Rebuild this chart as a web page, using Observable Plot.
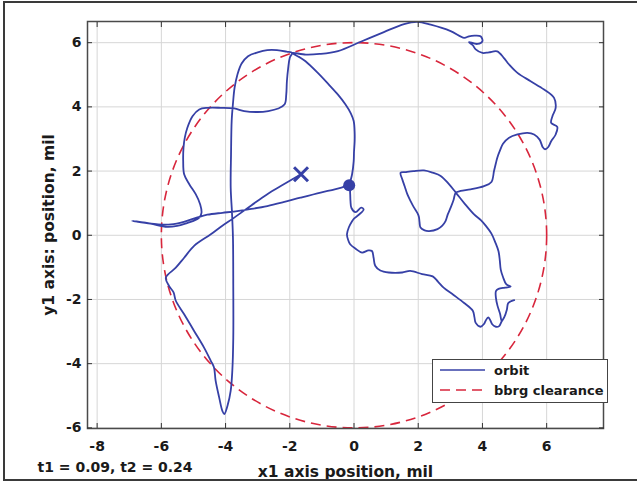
<!DOCTYPE html>
<html>
<head>
<meta charset="utf-8">
<script src="https://cdn.jsdelivr.net/npm/d3@7"></script>
<script src="https://cdn.jsdelivr.net/npm/@observablehq/plot@0.6"></script>
<style>
  body { margin: 0; background: #fff; }
  #fig { position: relative; width: 637px; height: 482px; overflow: hidden; background: #fff;
         font-family: "DejaVu Sans", sans-serif; font-weight: bold; color: #1a1a1a; }
  #fig > svg { position: absolute; left: 0; top: 0; }
  #border { position: absolute; left: 3px; top: 1px; width: 700px; height: 480px; box-sizing: border-box;
            border: 2px solid #3a3a3a; border-right: none; pointer-events: none; }
  #legend { position: absolute; left: 432px; top: 359px; width: 176px; height: 44px; box-sizing: border-box;
            background: #fff; border: 1.5px solid #444; }
  #legend svg { display: block; }
</style>
</head>
<body>
<div id="fig"></div>
<script>
// Rotor orbit (x1, y1) in mil, traced in time order from start (×) to end (●)
const orbitX = [
  -1.65, -2.20, -2.70, -3.20, -3.73, -4.10, -4.46, -4.98, -5.29, -5.55, -5.86,
  -5.76, -5.62, -5.55, -5.29, -4.98, -4.67, -4.46, -4.36, -4.31, -4.20, -4.10, -4.04,
  -3.94, -3.84, -3.79, -3.76, -3.76, -3.77, -3.80, -3.84, -3.83, -3.81, -3.77, -3.72, -3.63, -3.50, -3.30, -3.00, -2.70, -2.40, -2.10, -1.93,
  -2.00, -2.05, -2.09, -2.11, -2.16, -2.36, -2.67, -3.00, -3.42, -3.73, -4.15, -4.56, -4.82, -5.03, -5.19, -5.27, -5.31, -5.32, -5.29, -5.13, -4.93, -4.79, -4.75, -4.82, -5.00, -5.20, -5.51, -5.82, -6.34, -6.91,
  -6.55, -6.10, -5.70, -5.30, -4.90, -4.57, -4.10, -3.74, -3.20, -2.70, -2.20, -1.67, -1.04, -0.60, -0.35, -0.15,
  -0.12, -0.11, -0.08, 0.05, 0.22, 0.30, 0.15, 0.00, -0.06, -0.16, -0.22, -0.18, -0.12, 0.05, 0.25, 0.45, 0.56, 0.61, 0.66, 0.82, 1.08, 1.50, 1.75, 2.12, 2.45, 2.62, 2.80, 3.10, 3.43, 3.70, 3.75, 3.79, 3.94, 4.05, 4.10, 4.18, 4.24, 4.31, 4.42, 4.52, 4.60,
  4.68, 4.76, 4.80, 4.90, 4.99, 4.90, 4.80, 4.76, 4.68, 4.60,
  4.55, 4.47, 4.42, 4.42, 4.50, 4.70, 4.88, 4.74, 4.64, 4.57, 4.54, 4.50, 4.40, 4.28, 4.10, 3.95, 3.74, 3.45, 3.17,
  2.95, 2.70, 2.45, 2.18, 1.85, 1.60, 1.45, 1.50, 1.58, 1.66, 1.77, 1.87, 1.98, 2.02, 2.04, 2.07, 2.20, 2.34, 2.60, 2.75, 2.85, 2.92, 3.01, 3.10, 3.17,
  3.32, 3.63, 4.05, 4.28, 4.36, 4.42, 4.46, 4.55, 4.64, 4.83, 5.09, 5.40, 5.61, 5.78, 5.88, 5.95, 6.05, 6.14, 6.28, 6.33, 6.14, 6.18, 6.28, 6.23, 5.92, 5.50, 5.09, 4.83, 4.67, 4.46, 4.20, 4.00, 3.79, 3.70, 3.58, 3.84, 4.00, 3.94, 3.75, 3.58, 3.43, 3.01, 2.39, 1.97, 1.56, 0.93, 0.21, -0.50, -1.07, -1.50, -1.93,
  -1.70, -1.51, -1.15, -0.79, -0.50, -0.27, -0.10, -0.01, 0.02, 0.02, 0.00, -0.01, -0.06, -0.15
];
const orbitY = [
  1.90, 1.58, 1.28, 0.93, 0.55, 0.30, 0.03, -0.33, -0.70, -1.01, -1.32,
  -1.58, -1.78, -2.04, -2.46, -2.98, -3.50, -3.91, -4.12, -4.53, -5.05, -5.47, -5.57,
  -5.31, -4.84, -4.22, -3.19, -1.63, -0.07, 0.70, 1.48, 2.52, 3.56, 4.10, 4.59, 5.01, 5.35, 5.58, 5.70, 5.77, 5.77, 5.72, 5.68,
  5.53, 5.21, 4.80, 4.39, 4.08, 3.95, 3.87, 3.84, 3.87, 3.95, 3.97, 3.97, 3.92, 3.71, 3.35, 3.04, 2.73, 2.31, 1.90, 1.59, 1.28, 0.96, 0.70, 0.55, 0.45, 0.38, 0.29, 0.26, 0.36, 0.45,
  0.40, 0.34, 0.34, 0.42, 0.55, 0.64, 0.70, 0.74, 0.82, 0.91, 1.03, 1.17, 1.33, 1.43, 1.50, 1.56,
  1.30, 1.07, 0.85, 0.72, 0.86, 0.80, 0.64, 0.52, 0.44, 0.25, 0.03, -0.15, -0.28, -0.42, -0.54, -0.47, -0.49, -0.70, -0.95, -1.10, -1.16, -1.16, -1.11, -1.21, -1.28, -1.45, -1.64, -1.86, -2.11, -2.35, -2.55, -2.73, -2.85, -2.76, -2.66, -2.56, -2.64, -2.78, -2.85, -2.83, -2.68,
  -2.55, -2.32, -2.12, -2.05, -2.02, -2.05, -2.12, -2.32, -2.55, -2.66,
  -2.45, -2.20, -1.95, -1.74, -1.67, -1.63, -1.60, -1.52, -1.30, -1.07, -0.78, -0.50, -0.22, 0.05, 0.30, 0.47, 0.65, 0.98, 1.33,
  1.60, 1.85, 1.95, 2.02, 2.00, 1.97, 1.95, 1.75, 1.52, 1.28, 1.05, 0.86, 0.68, 0.58, 0.42, 0.24, 0.15, 0.13, 0.19, 0.30, 0.44, 0.65, 0.86, 1.10, 1.33,
  1.38, 1.43, 1.53, 1.66, 2.00, 2.25, 2.41, 2.65, 2.85, 3.04, 3.14, 3.19, 3.14, 2.98, 2.74, 2.68, 2.75, 2.93, 3.14, 3.38, 3.50, 3.71, 3.97, 4.28, 4.54, 4.80, 5.06, 5.32, 5.52, 5.73, 5.70, 5.68, 5.79, 5.92, 6.02, 5.96, 6.05, 6.20, 6.22, 6.20, 6.15, 6.36, 6.56, 6.65, 6.58, 6.33, 6.03, 5.74, 5.65, 5.63, 5.68,
  5.55, 5.42, 5.08, 4.70, 4.38, 4.08, 3.80, 3.56, 3.20, 2.93, 2.60, 2.31, 1.90, 1.56
];

// Bearing clearance radius (mil) and orbit end markers
const clearanceRadius = [6];
const startPoint = [{x: -1.65, y: 1.90}];
const endPoint = [{x: -0.15, y: 1.56}];

const xTicks = [-8, -6, -4, -2, 0, 2, 4, 6];
const yTicks = [-6, -4, -2, 0, 2, 4, 6];
const xDomain = [-8.3, 7.77];
const yDomain = [-6.02, 6.66];

const legendItems = ["orbit", "bbrg clearance"];
const note = "t1 = 0.09, t2 = 0.24";
const xLabel = "x1 axis position, mil";
const yLabel = "y1 axis: position, mil";

const blue = "#3640a6";
const red = "#d8263c";

const W = 637, H = 482;
const mL = 87, mR = 34, mT = 21, mB = 54;
const plotW = W - mL - mR;

const orbit = orbitX.map((x, i) => ({x, y: orbitY[i]}));
const plainNumber = d => String(d);

const chart = Plot.plot({
  width: W,
  height: H,
  marginLeft: mL,
  marginRight: mR,
  marginTop: mT,
  marginBottom: mB,
  style: {background: "transparent", fontFamily: "'DejaVu Sans', sans-serif", fontWeight: "bold", fontSize: "14px", color: "#1a1a1a", overflow: "visible"},
  x: {domain: xDomain},
  y: {domain: yDomain},
  // radius scale in the same units as the x axis, so the clearance circle is drawn at radius 6 mil
  r: {type: "linear", domain: [0, xDomain[1] - xDomain[0]], range: [0, plotW]},
  marks: [
    Plot.gridX(xTicks, {stroke: "#d6d6d6", strokeOpacity: 1}),
    Plot.gridY(yTicks, {stroke: "#d6d6d6", strokeOpacity: 1}),
    Plot.dot(clearanceRadius, {x: () => 0, y: () => 0, r: d => d, stroke: red, strokeWidth: 1.6, strokeDasharray: "10,6", fill: "none"}),
    Plot.line(orbit, {x: "x", y: "y", stroke: blue, strokeWidth: 1.8, curve: "catmull-rom"}),
    Plot.dot(startPoint, {x: "x", y: "y", symbol: "times", r: 6.4, stroke: blue, strokeWidth: 3}),
    Plot.dot(endPoint, {x: "x", y: "y", r: 6, fill: blue, stroke: "none"}),
    Plot.frame({stroke: "#4a4a4a", strokeWidth: 1.5}),
    // tick labels
    Plot.axisX(xTicks, {anchor: "bottom", tickSize: 0, tickPadding: 13, label: null, fontSize: 14, tickFormat: plainNumber}),
    Plot.axisY(yTicks, {anchor: "left", tickSize: 0, tickPadding: 6, label: null, fontSize: 14, tickFormat: plainNumber}),
    // inward ticks on all four sides
    Plot.axisX(xTicks, {anchor: "bottom", tickSize: 5, dy: -5, fill: "none", label: null, stroke: "#333"}),
    Plot.axisX(xTicks, {anchor: "top", tickSize: 5, dy: 5, fill: "none", label: null, stroke: "#333"}),
    Plot.axisY(yTicks, {anchor: "left", tickSize: 5, dx: 5, fill: "none", label: null, stroke: "#333"}),
    Plot.axisY(yTicks, {anchor: "right", tickSize: 5, dx: -5, fill: "none", label: null, stroke: "#333"}),
    // axis titles and run note
    Plot.text([xLabel], {text: d => d, frameAnchor: "bottom", dy: 44, fontSize: 15.5, lineAnchor: "middle", textAnchor: "middle", fill: "#1a1a1a"}),
    Plot.text([yLabel], {text: d => d, frameAnchor: "left", dx: -38, rotate: -90, fontSize: 15.5, lineAnchor: "middle", textAnchor: "middle", fill: "#1a1a1a"}),
    Plot.text([note], {text: d => d, frameAnchor: "bottom-left", dx: -50, dy: 39, fontSize: 14, lineAnchor: "middle", textAnchor: "start", fill: "#1a1a1a"})
  ]
});

const fig = document.getElementById("fig");
fig.appendChild(chart);

// Legend box
const legend = document.createElement("div");
legend.id = "legend";
fig.appendChild(legend);
const lsvg = d3.select(legend).append("svg").attr("width", 173).attr("height", 41);
const rows = [
  {label: legendItems[0], stroke: blue, dash: null},
  {label: legendItems[1], stroke: red, dash: "10,6"}
];
rows.forEach((row, i) => {
  const y = 10 + i * 20;
  lsvg.append("line").attr("x1", 7).attr("x2", 52).attr("y1", y).attr("y2", y)
    .attr("stroke", row.stroke).attr("stroke-width", 1.6).attr("stroke-dasharray", row.dash);
  lsvg.append("text").attr("x", 61).attr("y", y).attr("dy", "0.35em")
    .attr("font-family", "'DejaVu Sans', sans-serif").attr("font-weight", "bold").attr("font-size", 13)
    .attr("fill", "#1a1a1a").text(row.label);
});

const border = document.createElement("div");
border.id = "border";
fig.appendChild(border);
</script>
</body>
</html>
